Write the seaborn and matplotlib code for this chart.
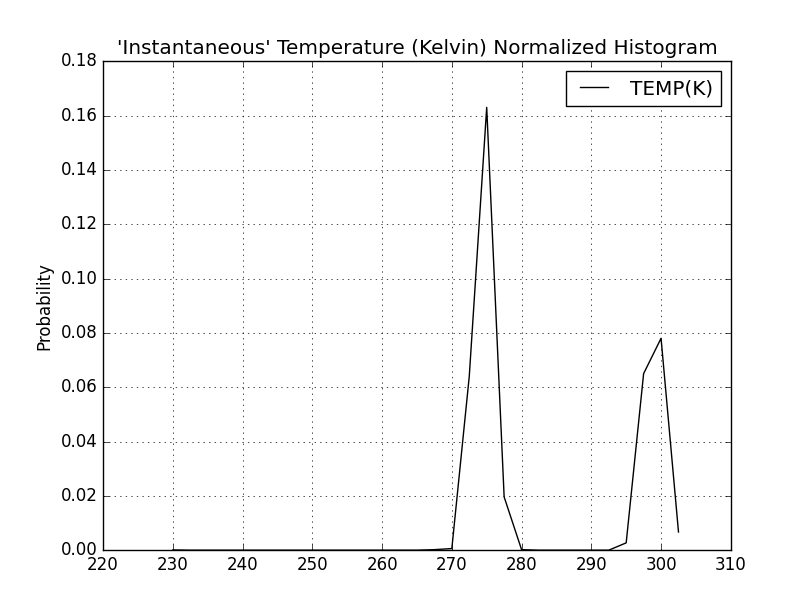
import numpy as np
import pandas as pd
import matplotlib
matplotlib.use("Agg")
import matplotlib.pyplot as plt
import seaborn as sns

# bin centres (Kelvin) and normalized probability
temp_k = [230.0, 232.5, 235.0, 237.5, 240.0, 242.5, 245.0, 247.5, 250.0, 252.5,
          255.0, 257.5, 260.0, 262.5, 265.0, 267.5, 270.0, 272.5, 275.0, 277.5,
          280.0, 282.5, 285.0, 287.5, 290.0, 292.5, 295.0, 297.5, 300.0, 302.5]
prob = [0.0001, 0.0, 0.0, 0.0, 0.0, 0.0, 0.0, 0.0, 0.0, 0.0,
        0.0, 0.0, 0.0, 0.0, 0.0, 0.0002, 0.0006, 0.064, 0.163, 0.0196,
        0.0002, 0.0, 0.0, 0.0, 0.0, 0.0, 0.0027, 0.065, 0.078, 0.0067]

df = pd.DataFrame({"TEMP(K)": temp_k, "prob": prob})

plt.style.use("classic")
plt.rcParams["font.family"] = ["DejaVu Sans"]

fig, ax = plt.subplots(figsize=(8.12, 6.12), dpi=100)
fig.subplots_adjust(left=0.127, right=0.9, bottom=0.101, top=0.9)
fig.patch.set_facecolor("white")

sns.lineplot(data=df, x="TEMP(K)", y="prob", color="black", linewidth=1,
             label="TEMP(K)", ax=ax)

ax.set_xlim(220, 310)
ax.set_ylim(0, 0.18)
ax.set_xticks(np.arange(220, 311, 10))
ax.set_yticks(np.arange(0, 0.181, 0.02))
ax.grid(True, color="black", linestyle=":", linewidth=0.5)
ax.set_title("'Instantaneous' Temperature (Kelvin) Normalized Histogram", fontsize=14.4)
ax.set_xlabel("")
ax.set_ylabel("Probability", fontsize=12)
ax.legend(loc="upper right", fontsize=14.4, frameon=True, fancybox=False)

fig.savefig("out.png", dpi=100, facecolor="white")
